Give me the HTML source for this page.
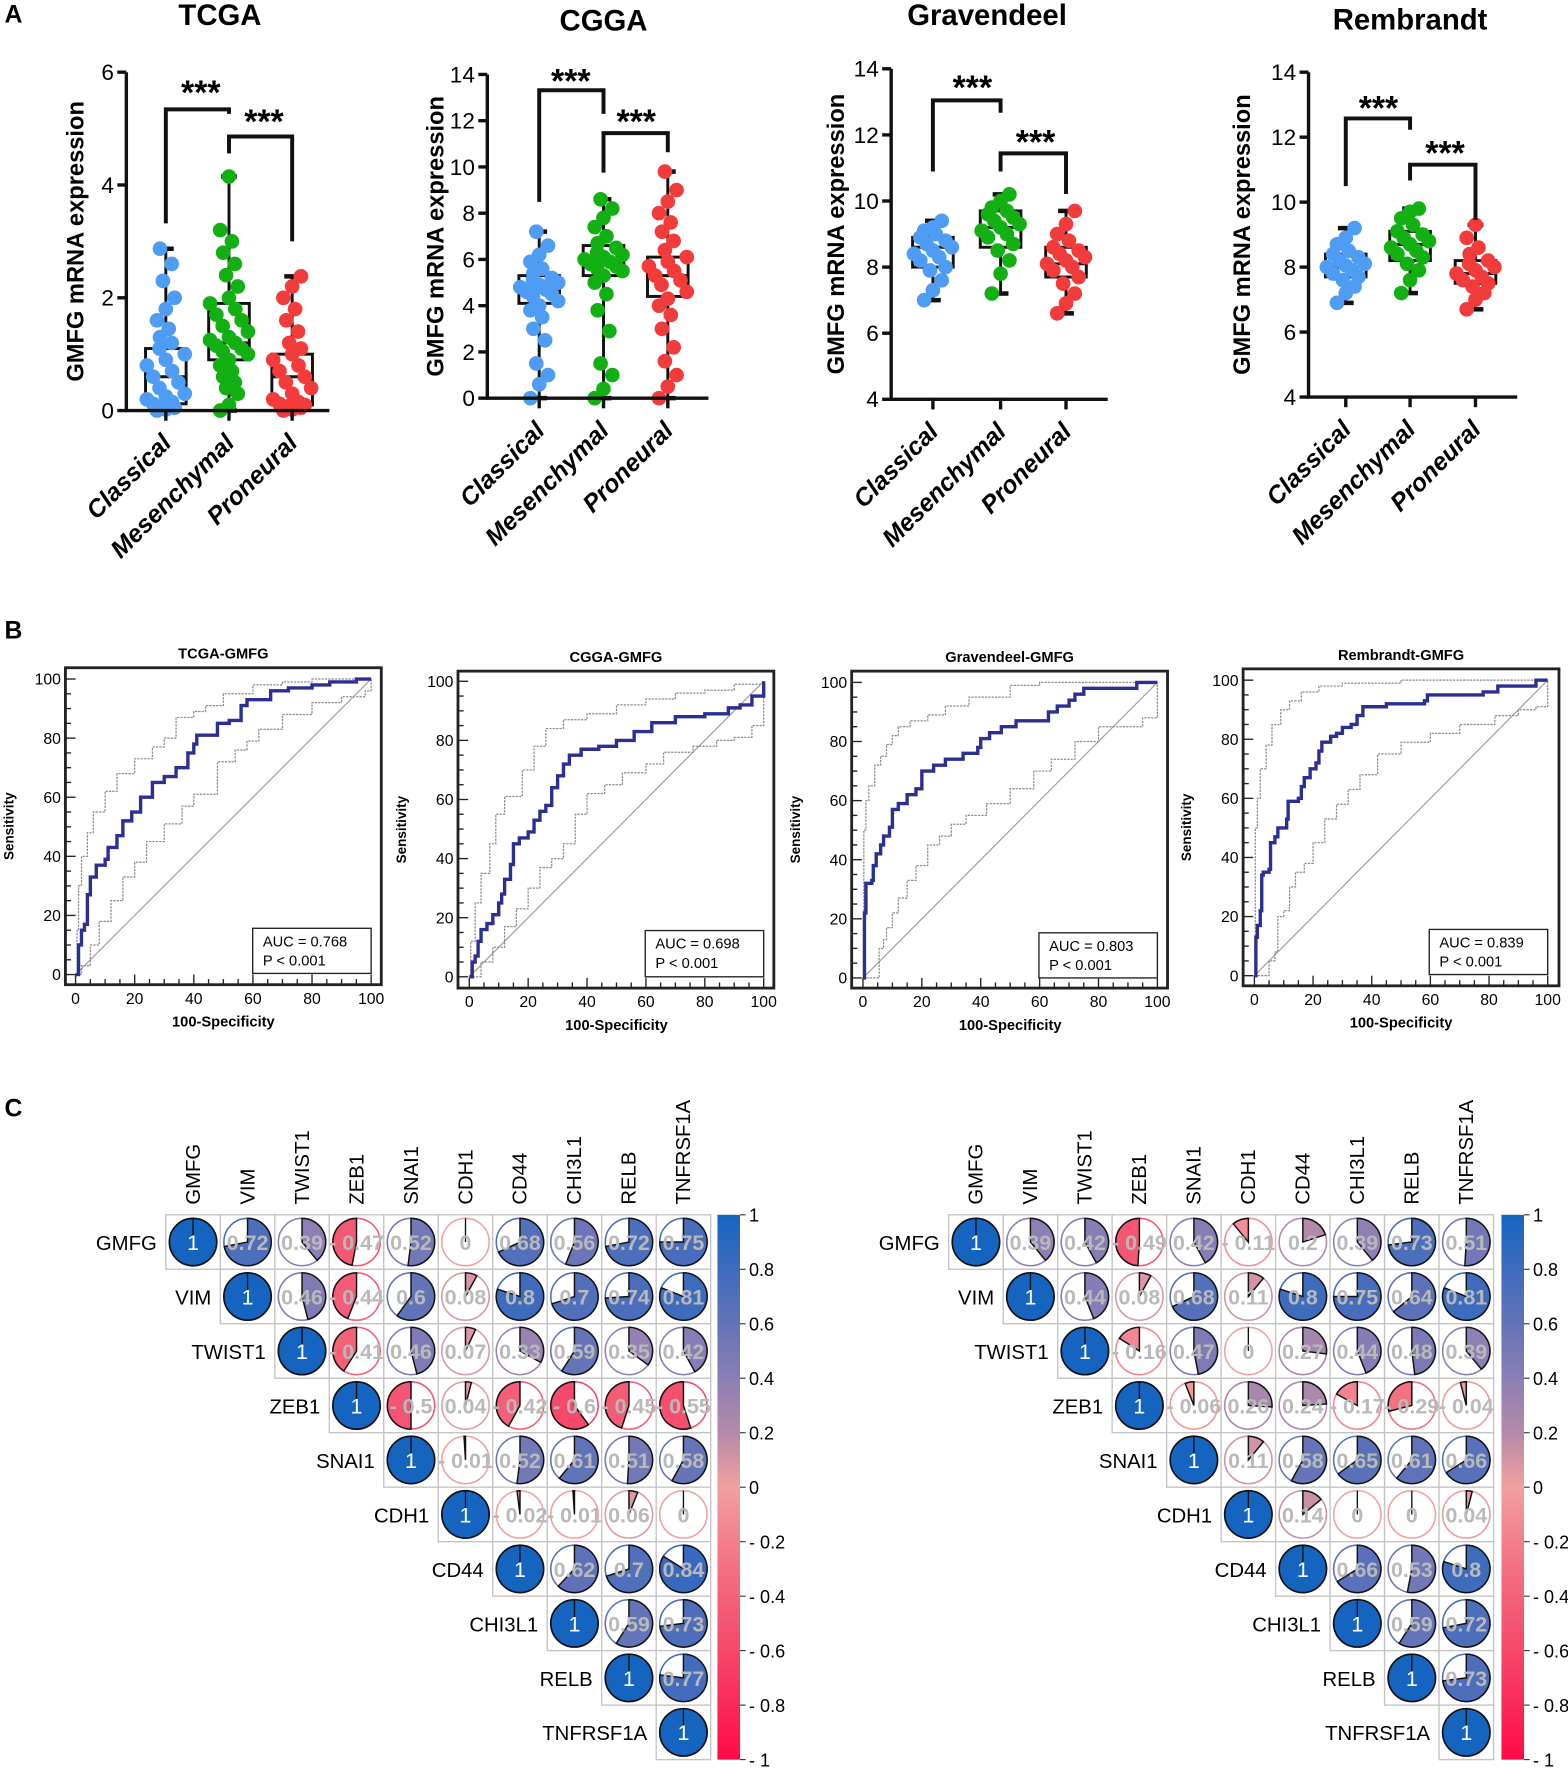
<!DOCTYPE html>
<html><head><meta charset="utf-8"><style>
html,body{margin:0;padding:0;background:#fff;}
svg{display:block;font-family:"Liberation Sans",Arial,sans-serif;}
</style></head><body>
<svg id="fig" xmlns="http://www.w3.org/2000/svg" width="1568" height="1772" viewBox="0 0 1390 1571" preserveAspectRatio="none">
<defs>
<linearGradient id="cbar" x1="0" y1="0" x2="0" y2="1">
<stop offset="0" stop-color="#1565c0"/><stop offset="0.1" stop-color="#3f6bbd"/><stop offset="0.2" stop-color="#6373b8"/><stop offset="0.3" stop-color="#8c7fb5"/><stop offset="0.4" stop-color="#b48aa9"/><stop offset="0.5" stop-color="#f2a0a0"/><stop offset="0.65" stop-color="#f36f82"/><stop offset="0.8" stop-color="#f5486a"/><stop offset="1" stop-color="#ff0a46"/>
</linearGradient>
</defs>
<text x="4" y="20" font-size="22" font-weight="bold">A</text>
<text x="4" y="566" font-size="22" font-weight="bold">B</text>
<text x="4" y="990" font-size="22" font-weight="bold">C</text>
</svg>
<script>
const NS='http://www.w3.org/2000/svg';
const svg=document.getElementById('fig');
function mk(tag,attrs,parent){const e=document.createElementNS(NS,tag);for(const k in attrs)e.setAttribute(k,attrs[k]);(parent||svg).appendChild(e);return e;}

// ===== Panel A data =====
const categories=['Classical','Mesenchymal','Proneural'];
const tcgaDots=[[0,0.02,0.05,0.08,0.1,0.12,0.15,0.2,0.25,0.3,0.4,0.5,0.6,0.7,0.8,0.9,1.0,1.1,1.2,1.3,1.45,1.6,1.8,2.0,2.3,2.6,2.87],
[0,0.1,0.3,0.4,0.5,0.6,0.7,0.8,0.9,1.0,1.05,1.1,1.15,1.2,1.25,1.3,1.4,1.5,1.6,1.7,1.8,1.9,2.0,2.2,2.4,2.6,2.8,3.0,3.2,4.15],
[0,0.02,0.05,0.08,0.1,0.12,0.15,0.2,0.3,0.4,0.5,0.6,0.7,0.8,0.9,1.0,1.1,1.2,1.4,1.6,1.8,2.0,2.2,2.38]];
const tcgaBox=[[0.12,0.6,1.1,0,2.87],[0.9,1.2,1.9,0,4.15],[0.1,0.6,1.0,0,2.38]];
const cggaDots=[[0,0.6,1.0,1.5,2.5,3.0,3.5,3.8,4.0,4.2,4.4,4.5,4.6,4.7,4.8,4.9,5.0,5.1,5.2,5.4,5.6,5.9,6.2,6.6,7.2],
[0,0.4,1.0,1.5,2.9,3.8,4.5,5.0,5.3,5.5,5.6,5.7,5.8,5.9,6.0,6.1,6.2,6.3,6.5,6.7,7.0,7.4,7.8,8.2,8.6],
[0,0.5,1.0,1.6,2.2,3.0,3.6,4.0,4.3,4.6,4.9,5.1,5.3,5.5,5.7,5.9,6.1,6.4,6.8,7.2,7.6,8.0,8.5,9.0,9.8]];
const cggaBox=[[4.1,4.6,5.3,0,7.2],[5.3,5.9,6.6,0,8.6],[4.4,5.3,6.1,0,9.8]];
const gravDots=[[7.0,7.3,7.6,7.9,8.0,8.2,8.3,8.4,8.5,8.6,8.7,8.8,8.9,9.0,9.1,9.2,9.4],
[7.2,7.8,8.2,8.5,8.7,8.9,9.0,9.1,9.2,9.3,9.4,9.5,9.6,9.7,9.8,10.0,10.2],
[6.6,6.9,7.2,7.5,7.7,7.9,8.0,8.1,8.2,8.3,8.4,8.5,8.6,8.8,9.0,9.3,9.7]];
const gravBox=[[8.0,8.6,8.9,7.0,9.4],[8.6,9.2,9.7,7.2,10.2],[7.7,8.1,8.6,6.6,9.7]];
const rembDots=[[6.9,7.2,7.4,7.6,7.7,7.8,7.9,8.0,8.05,8.1,8.2,8.3,8.4,8.5,8.7,8.9,9.2],
[7.2,7.6,7.9,8.1,8.3,8.4,8.5,8.6,8.7,8.8,8.9,9.0,9.1,9.3,9.5,9.7,9.8],
[6.7,7.0,7.2,7.4,7.5,7.6,7.7,7.8,7.9,8.0,8.1,8.2,8.4,8.6,8.9,9.3]];
const rembBox=[[7.7,8.0,8.4,6.9,9.2],[8.2,8.7,9.1,7.2,9.8],[7.5,7.8,8.2,6.7,9.3]];
const tcgaTicks=[0,2,4,6];
const otherTicks=[0,2,4,6,8,10,12,14];
const highTicks=[4,6,8,10,12,14];

const groupColors=['#4f9cf5','#13b013','#f23b3b'];
const panelsA=[
 {name:'tcga',title:'TCGA',tx:195,ty:22,ax:112,py0:364,py1:64,vmin:0,vmax:6,ticks:tcgaTicks,cx:[147,203,259],xend:292,dots:tcgaDots,box:tcgaBox,ylx:74,
  b1:[97,198,101],b2:[121,136,214],s1:[178,82],s2:[234,108]},
 {name:'cgga',title:'CGGA',tx:535,ty:27,ax:432,py0:353,py1:66,vmin:0,vmax:14,ticks:otherTicks,cx:[478,535,592],xend:628,dots:cggaDots,box:cggaBox,ylx:393,
  b1:[80,179,101],b2:[118,153,135],s1:[506,72],s2:[564,108]},
 {name:'gravendeel',title:'Gravendeel',tx:875,ty:22,ax:790,py0:354,py1:61,vmin:4,vmax:14,ticks:highTicks,cx:[827,887,945],xend:982,dots:gravDots,box:gravBox,ylx:748,
  b1:[89,152,100],b2:[136,152,172],s1:[862,78],s2:[918,126]},
 {name:'rembrandt',title:'Rembrandt',tx:1250,ty:26,ax:1160,py0:352,py1:64,vmin:4,vmax:14,ticks:highTicks,cx:[1193,1250,1308],xend:1345,dots:rembDots,box:rembBox,ylx:1108,
  b1:[105,165,115],b2:[146,160,195],s1:[1222,96],s2:[1281,136]}
];

panelsA.forEach(p=>{
 const g=mk('g',{});
 
 
 const yS=v=>p.py0-(v-p.vmin)/(p.vmax-p.vmin)*(p.py0-p.py1);
 const t=mk('text',{x:p.tx,y:p.ty,'font-size':26,'font-weight':'bold','text-anchor':'middle'},g);t.textContent=p.title;
 
 
 const yl=mk('text',{x:p.ylx,y:(p.py0+p.py1)/2,'font-size':21,'font-weight':'bold','text-anchor':'middle',transform:`rotate(-90 ${p.ylx} ${(p.py0+p.py1)/2})`},g);yl.textContent='GMFG mRNA expression';
 
 
 // boxes
 p.box.forEach((b,gi)=>{
  const x=p.cx[gi],w=18;
  const bg=mk('g',{stroke:'#111','stroke-width':2.6,fill:'none'},g);
  
  
  mk('rect',{x:x-w,y:yS(b[2]),width:2*w,height:yS(b[0])-yS(b[2])},bg);
  mk('line',{x1:x-w,x2:x+w,y1:yS(b[1]),y2:yS(b[1])},bg);
  mk('line',{x1:x,x2:x,y1:yS(b[2]),y2:yS(b[4])},bg);
  mk('line',{x1:x,x2:x,y1:yS(b[0]),y2:yS(b[3])},bg);
  mk('line',{x1:x-7,x2:x+7,y1:yS(b[4]),y2:yS(b[4]),'stroke-width':4},bg);
  mk('line',{x1:x-7,x2:x+7,y1:yS(b[3]),y2:yS(b[3]),'stroke-width':4},bg);
 });
 // dots
 p.dots.forEach((arr,gi)=>{
  const bx=p.box[gi];
  arr.forEach((v,i)=>{
   const inBox=v>=bx[0]&&v<=bx[2];
   const off=((i*3)%7-3)*(inBox?5.6:2.6);
   const c=mk('circle',{cx:p.cx[gi]+off,cy:yS(v),r:6.5,fill:groupColors[gi]},g);
   
   
  });
 });
 // axes
 const ax=mk('path',{d:`M${p.ax},${p.py1} V${p.py0} H${p.xend}`,stroke:'#111','stroke-width':3,fill:'none'},g);
 
 
 p.ticks.forEach(tv=>{
  mk('line',{x1:p.ax-8,x2:p.ax,y1:yS(tv),y2:yS(tv),stroke:'#111','stroke-width':3},g);
  const tl=mk('text',{x:p.ax-11,y:yS(tv)+7,'font-size':20,'text-anchor':'end'},g);tl.textContent=tv;
  
  
 });
 p.cx.forEach((x,gi)=>{
  mk('line',{x1:x,x2:x,y1:p.py0,y2:p.py0+9,stroke:'#111','stroke-width':3},g);
  const lx=x+6,ly=p.py0+30;
  const cl=mk('text',{x:lx,y:ly,'font-size':22,'font-weight':'bold','font-style':'italic','text-anchor':'end',transform:`rotate(-45 ${lx} ${ly})`},g);cl.textContent=categories[gi];
  
  
 });
 // brackets
 const br1=mk('path',{d:`M${p.cx[0]},${p.b1[1]} V${p.b1[0]} H${p.cx[1]} V${p.b1[2]}`,stroke:'#111','stroke-width':3.5,fill:'none'},g);
 
 
 const br2=mk('path',{d:`M${p.cx[1]},${p.b2[1]} V${p.b2[0]} H${p.cx[2]} V${p.b2[2]}`,stroke:'#111','stroke-width':3.5,fill:'none'},g);
 
 
 [p.s1,p.s2].forEach(s=>{
  const st=mk('text',{x:s[0],y:s[1]+10,'font-size':30,'font-weight':'bold','text-anchor':'middle'},g);st.textContent='***';
  
  
 });
});

// ===== Panel B ROC data =====
const tcgaRocX=[0,1,2,3,4,5,7,10,11,14,16,19,22,26,30,34,38,40,41,46,48,52,56,58,64,66,72,80,86,95,100];
const tcgaRocY=[0,10,15,17,27,33,37,39,43,47,52,55,60,65,67,70,75,78,81,81,85,86,91,93,93,96,97,98,99,100,100];
const tcgaUpX=[0,0.5,1,2,4,6,10,14,20,26,30,34,40,44,50,60,70,80,100];
const tcgaUpY=[0,15,30,40,48,55,62,68,73,77,80,87,89,91,95,98,99,100,100];
const tcgaLoX=[0,2,5,8,12,16,20,24,30,36,40,48,54,58,62,70,80,90,98,100];
const tcgaLoY=[0,3,10,18,25,33,38,45,51,57,61,72,76,79,83,88,92,94,96,100];
const cggaRocX=[0,1,2,3,4,6,8,10,11,12,14,15,17,20,22,24,26,28,30,32,34,38,44,50,56,62,70,80,88,92,96,100];
const cggaRocY=[0,5,7,12,16,18,21,25,28,33,38,45,47,49,53,56,58,64,68,72,75,77,78,80,83,86,88,89,91,92,95,100];
const cggaUpX=[0,0.5,2,4,7,9,12,18,22,26,32,40,50,60,70,80,90,100];
const cggaUpY=[0,12,25,35,45,55,61,70,78,84,87,89,92,94,96,97,99,100];
const cggaLoX=[0,4,8,12,16,20,24,28,32,36,40,46,52,60,66,76,84,90,96,100];
const cggaLoY=[0,5,10,17,23,30,37,40,45,55,62,65,69,72,76,78,80,81,85,100];
const gravRocX=[0,0.5,1,3,3.5,4.5,6,7,9,10,12,15,18,20,24,28,34,39,40,43,47,52,62,63,66,70,72,75,92,93,100];
const gravRocY=[0,22,32,33,38,42,45,48,51,57,59,62,64,70,72,74,76,78,81,83,85,87,87,90,92,94,96,98,98,100,100];
const gravUpX=[0,0.3,1,2,4,6,8,10,12,16,22,28,36,50,60,100];
const gravUpY=[0,50,60,65,72,75,79,82,85,87,89,92,95,99,100,100];
const gravLoX=[0,5,5.5,7,8,10,12,15,18,22,26,30,35,42,50,58,64,72,80,95,100];
const gravLoY=[0,0,10,13,17,22,27,33,38,45,48,52,55,59,64,70,74,80,85,88,100];
const rembRocX=[0,0.5,1,2,2.5,3,5,5.5,7,8,11,11.5,15,16,17,19,21,22,23,26,28,30,33,35,37,42,45,58,59,78,83,94,96,100];
const rembRocY=[0,13,17,22,34,35,36,45,47,50,53,59,60,64,67,70,72,76,79,81,82,84,85,88,91,91,92,93,95,96,98,98,100,100];
const rembUpX=[0,0.3,1,2,4,6,9,12,16,22,30,50,100];
const rembUpY=[0,50,60,70,78,85,90,93,96,98,99,100,100];
const rembLoX=[0,3,5,7,8,10,12,14,17,20,24,28,32,36,42,50,60,70,82,90,96,100];
const rembLoY=[0,0,5,8,20,22,30,35,38,45,53,58,63,68,75,79,82,85,88,90,91,100];
const rocTicks=[0,20,40,60,80,100];
const aucLabels=['AUC = 0.768','AUC = 0.698','AUC = 0.803','AUC = 0.839'];

const rocPanels=[
 {name:'tcga',title:'TCGA-GMFG',fx0:58,fy0:592,fx1:338,fy1:873,x0:67,x100:329,y100:602,y0:864,ab:[224,823,329,863],mx:tcgaRocX,my:tcgaRocY,ux:tcgaUpX,uy:tcgaUpY,lx:tcgaLoX,ly:tcgaLoY},
 {name:'cgga',title:'CGGA-GMFG',fx0:406,fy0:595,fx1:686,fy1:876,x0:416,x100:677,y100:604,y0:866,ab:[572,825,677,866],mx:cggaRocX,my:cggaRocY,ux:cggaUpX,uy:cggaUpY,lx:cggaLoX,ly:cggaLoY},
 {name:'gravendeel',title:'Gravendeel-GMFG',fx0:755,fy0:595,fx1:1035,fy1:876,x0:765,x100:1026,y100:605,y0:867,ab:[921,827,1026,867],mx:gravRocX,my:gravRocY,ux:gravUpX,uy:gravUpY,lx:gravLoX,ly:gravLoY},
 {name:'rembrandt',title:'Rembrandt-GMFG',fx0:1102,fy0:593,fx1:1382,fy1:874,x0:1112,x100:1372,y100:603,y0:865,ab:[1267,824,1372,864],mx:rembRocX,my:rembRocY,ux:rembUpX,uy:rembUpY,lx:rembLoX,ly:rembLoY}
];
rocPanels.forEach((p,pi)=>{
 const g=mk('g',{});
 
 
 const xS=v=>p.x0+v/100*(p.x100-p.x0), yS=v=>p.y0-v/100*(p.y0-p.y100);
 const t=mk('text',{x:(p.fx0+p.fx1)/2,y:p.fy0-8,'font-size':13,'font-weight':'bold','text-anchor':'middle'},g);t.textContent=p.title;
 
 
 const fr=mk('rect',{x:p.fx0,y:p.fy0,width:p.fx1-p.fx0,height:p.fy1-p.fy0,fill:'none',stroke:'#222','stroke-width':2.5},g);
 
 
 for(let v=0;v<=100;v+=5){
  const maj=v%20===0;
  mk('line',{x1:xS(v),x2:xS(v),y1:p.fy1,y2:p.fy1-(maj?9:5),stroke:'#222','stroke-width':1.2},g);
  mk('line',{x1:p.fx0,x2:p.fx0+(maj?9:5),y1:yS(v),y2:yS(v),stroke:'#222','stroke-width':1.2},g);
 }
 rocTicks.forEach(v=>{
  const a=mk('text',{x:xS(v),y:p.fy1+17,'font-size':14,'text-anchor':'middle'},g);a.textContent=v;
  
  
  const b=mk('text',{x:p.fx0-4,y:yS(v)+5,'font-size':14,'text-anchor':'end'},g);b.textContent=v;
  
  
 });
 const xl=mk('text',{x:(p.x0+p.x100)/2,y:p.fy1+37,'font-size':13,'font-weight':'bold','text-anchor':'middle'},g);xl.textContent='100-Specificity';
 
 
 const ylx=p.fx0-46,yly=(p.fy0+p.fy1)/2;
 const yl=mk('text',{x:ylx,y:yly,'font-size':12,'font-weight':'bold','text-anchor':'middle',transform:`rotate(-90 ${ylx} ${yly})`},g);yl.textContent='Sensitivity';
 
 
 const dg=mk('line',{x1:xS(0),y1:yS(0),x2:xS(100),y2:yS(100),stroke:'#9a9a9a','stroke-width':1},g);
 
 
 const step=(xs,ys)=>{let d=`M${xS(xs[0])},${yS(ys[0])}`;for(let i=1;i<xs.length;i++){d+=` L${xS(xs[i])},${yS(ys[i-1])} L${xS(xs[i])},${yS(ys[i])}`;}return d;};
 const up=mk('path',{d:step(p.ux,p.uy),stroke:'#8a8a8a','stroke-width':1.1,fill:'none','stroke-dasharray':'2,1'},g);
 
 
 const lo=mk('path',{d:step(p.lx,p.ly),stroke:'#8a8a8a','stroke-width':1.1,fill:'none','stroke-dasharray':'2,1'},g);
 
 
 const rc=mk('path',{d:step(p.mx,p.my),stroke:'#2b2f94','stroke-width':3,fill:'none'},g);
 
 
 const bx=mk('rect',{x:p.ab[0],y:p.ab[1],width:p.ab[2]-p.ab[0],height:p.ab[3]-p.ab[1],fill:'#fff',stroke:'#222','stroke-width':1.2},g);
 
 
 const a1=mk('text',{x:p.ab[0]+9,y:p.ab[1]+16,'font-size':13},g);a1.textContent=aucLabels[pi];
 
 
 const a2=mk('text',{x:p.ab[0]+9,y:p.ab[1]+33,'font-size':13},g);a2.textContent='P < 0.001';
 
 
});

// ===== Panel C correlation data =====
const genes=['GMFG','VIM','TWIST1','ZEB1','SNAI1','CDH1','CD44','CHI3L1','RELB','TNFRSF1A'];
const corrLeft=[[1,.72,.39,-.47,.52,0,.68,.56,.72,.75],[1,.46,-.44,.6,.08,.8,.7,.74,.81],[1,-.41,.46,.07,.33,.59,.35,.42],[1,-.5,.04,-.42,-.6,-.45,-.55],[1,-.01,.52,.61,.51,.58],[1,-.02,-.01,.06,0],[1,.62,.7,.84],[1,.59,.73],[1,.77],[1]];
const corrRight=[[1,.39,.42,-.49,.42,-.11,.2,.39,.73,.51],[1,.44,.08,.68,.11,.8,.75,.64,.81],[1,-.16,.47,0,.27,.44,.48,.39],[1,-.06,.26,.24,-.17,-.29,-.04],[1,.11,.58,.65,.61,.66],[1,.14,0,0,.04],[1,.66,.53,.8],[1,.59,.72],[1,.73],[1]];
const cbarTicks=[1,0.8,0.6,0.4,0.2,0,-0.2,-0.4,-0.6,-0.8,-1];

const stops=[[-1,[255,10,70]],[-0.6,[245,72,106]],[-0.3,[243,111,130]],[0,[242,160,160]],[0.2,[180,138,169]],[0.4,[140,127,181]],[0.6,[99,115,184]],[0.8,[63,107,189]],[1,[21,101,192]]];
function col(r){for(let i=1;i<stops.length;i++){if(r<=stops[i][0]){const a=stops[i-1],b=stops[i],t=(r-a[0])/(b[0]-a[0]);return 'rgb('+a[1].map((c,k)=>Math.round(c+(b[1][k]-c)*t)).join(',')+')';}}return 'rgb(21,101,192)';}
function fmt(r){if(r===1)return '1';if(r===0)return '0';const s=Math.abs(r).toString();return (r<0?'- ':'')+s;}

function drawCorr(data,ox,oy,cbx,name){
 const cs=48.3,R=21;
 const g=mk('g',{});
 
 
 genes.forEach((gn,i)=>{
  const cx=ox+i*cs+cs/2;
  const t=mk('text',{x:cx+6,y:oy-9,'font-size':18,transform:`rotate(-90 ${cx+6} ${oy-9})`},g);t.textContent=gn;
  
  
  const rl=mk('text',{x:ox+i*cs-8,y:oy+i*cs+cs/2+7,'font-size':18,'text-anchor':'end'},g);rl.textContent=gn;
  
  
 });
 data.forEach((row,i)=>{
  row.forEach((r,k)=>{
   const j=i+k;
   const x=ox+j*cs,y=oy+i*cs,cx=x+cs/2,cy=y+cs/2;
   const cell=mk('g',{},g);
   
   
   mk('rect',{x:x,y:y,width:cs,height:cs,fill:'#fff',stroke:'#c4c4c4','stroke-width':1.2},cell);
   const c=col(r);
   if(r===1){
    mk('circle',{cx:cx,cy:cy,r:R,fill:'#1565c0',stroke:'#111','stroke-width':1.5},cell);
    mk('line',{x1:cx,y1:cy,x2:cx,y2:cy-R,stroke:'#111','stroke-width':1.2},cell);
   } else {
    mk('circle',{cx:cx,cy:cy,r:R,fill:'#fff',stroke:c,'stroke-width':1.4},cell);
    const a=Math.abs(r)*2*Math.PI*(r<0?-1:1);
    const ex=cx+R*Math.sin(a),ey=cy-R*Math.cos(a);
    const large=Math.abs(r)>0.5?1:0,sweep=r<0?0:1;
    if(r!==0){
     mk('path',{d:`M${cx},${cy} L${cx},${cy-R} A${R},${R} 0 ${large} ${sweep} ${ex},${ey} Z`,fill:c,stroke:'#111','stroke-width':1.3},cell);
    } else {
     mk('line',{x1:cx,y1:cy,x2:cx,y2:cy-R,stroke:'#111','stroke-width':1.2},cell);
    }
   }
   const tx=mk('text',{x:cx,y:cy+7,'font-size':19,'font-weight':r===1?'normal':'bold','text-anchor':'middle',fill:r===1?'#fff':'#b9b9b9'},cell);tx.textContent=fmt(r);
  });
 });
 const cb=mk('rect',{x:cbx,y:oy,width:20,height:483,fill:'url(#cbar)'},g);
 
 
 cbarTicks.forEach(v=>{
  const y=oy+(1-v)/2*483;
  mk('line',{x1:cbx+20,x2:cbx+25,y1:y,y2:y,stroke:'#333','stroke-width':1},g);
  const t=mk('text',{x:cbx+28,y:y+6,'font-size':16},g);t.textContent=v===0?'0':(v<0?'- '+Math.abs(v):String(v));
  
  
 });
}
drawCorr(corrLeft,147,1077,636,'left');
drawCorr(corrRight,841,1077,1331,'right');
</script>
</body></html>
